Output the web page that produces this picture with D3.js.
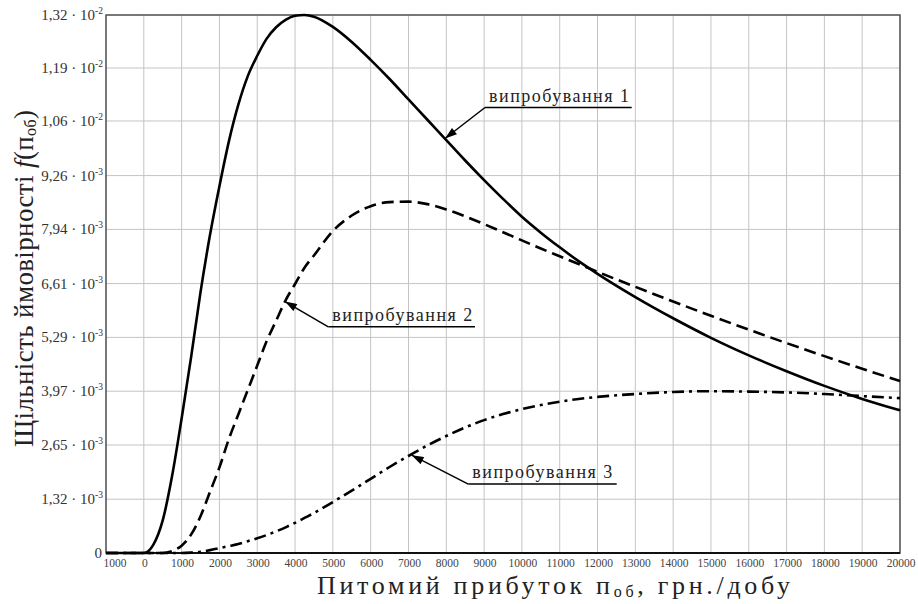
<!DOCTYPE html>
<html>
<head>
<meta charset="utf-8">
<script src="https://cdn.jsdelivr.net/npm/d3@7"></script>
</head>
<body style="margin:0">
<svg width="918" height="604"></svg>
<script>
'use strict';

// x values, grn per day
const xs = [-1000, 0, 250, 500, 750, 1000, 1250, 1500, 1750, 2000, 2250, 2500, 2750, 3000,
  3250, 3500, 3750, 4000, 4250, 4500, 5000, 5500, 6000, 6500, 7000, 7500, 8000, 8500, 9000,
  9500, 10000, 10500, 11000, 11500, 12000, 13000, 14000, 15000, 16000, 17000, 18000, 19000, 20000];

// випробування 1 (solid)
const trial1 = [0, 0, 0.0002, 0.0008, 0.0019, 0.0033, 0.0048, 0.0064, 0.0078, 0.0090, 0.0101,
  0.0110, 0.0117, 0.0122, 0.01262, 0.0129, 0.01308, 0.01318, 0.0132, 0.01316, 0.01291, 0.01254,
  0.0121, 0.01163, 0.01113, 0.01063, 0.01013, 0.00963, 0.00915, 0.00869, 0.00825, 0.00786,
  0.0075, 0.00716, 0.00685, 0.00628, 0.00576, 0.00528, 0.00485, 0.00446, 0.0041, 0.00378, 0.0035];

// випробування 2 (dashed)
const trial2 = [0, 0, 0, 0, 0.00005, 0.00018, 0.00045, 0.0009, 0.0015, 0.0021, 0.0028, 0.0034,
  0.004, 0.0046, 0.0052, 0.0057, 0.0062, 0.0066, 0.007, 0.0073, 0.0079, 0.00828, 0.00851,
  0.00861, 0.00862, 0.00856, 0.00843, 0.00826, 0.00807, 0.00787, 0.00767, 0.00747, 0.00728,
  0.00709, 0.0069, 0.00653, 0.00617, 0.00582, 0.00548, 0.00515, 0.00483, 0.00452, 0.00422];

// випробування 3 (dash-dot)
const trial3 = [0, 0, 0, 0, 0, 0, 0.00001, 0.00003, 0.00007, 0.00012, 0.00017, 0.00022,
  0.00029, 0.00036, 0.00044, 0.00053, 0.00063, 0.00074, 0.00086, 0.00098, 0.00125, 0.00153,
  0.00182, 0.00211, 0.00238, 0.00264, 0.00287, 0.00308, 0.00326, 0.00341, 0.00353, 0.00363,
  0.00371, 0.00378, 0.00383, 0.0039, 0.00395, 0.00397, 0.00396, 0.00394, 0.0039, 0.00385, 0.0038];

const xTicks = d3.range(-1000, 20001, 1000);
const xTickLabels = xTicks.map(v => String(Math.abs(v)));

const yTicks = [0, 0.00132, 0.00265, 0.00397, 0.00529, 0.00661, 0.00794, 0.00926, 0.0106, 0.0119, 0.0132];
const yTickMant = ['0', '1,32', '2,65', '3,97', '5,29', '6,61', '7,94', '9,26', '1,06', '1,19', '1,32'];
const yTickExp = [null, '-3', '-3', '-3', '-3', '-3', '-3', '-3', '-2', '-2', '-2'];

// label, tip (x, y), elbow (x, y), end of underline x, in data units
const notes = [
  { text: 'випробування 1', tx: 7966, ty: 0.01017, ex: 9024, ey: 0.01093, end: 12904 },
  { text: 'випробування 2', tx: 3734, ty: 0.00617, ex: 4879, ey: 0.00555, end: 8759 },
  { text: 'випробування 3', tx: 7085, ty: 0.0024, ex: 8582, ey: 0.00169, end: 12507 }
];

const FONT = '"Liberation Serif", "Times New Roman", serif';

const svg = d3.select('svg').style('font-family', FONT);
const W = +svg.attr('width'), H = +svg.attr('height');
const m = { top: 15, right: 18, bottom: 51, left: 106 };

const x = d3.scaleLinear().domain([-1000, 20000]).range([m.left, W - m.right]);
const y = d3.scaleLinear().domain([0, 0.0132]).range([H - m.bottom, m.top]);

// grid
svg.append('g')
  .selectAll('line').data(xTicks).join('line')
    .attr('x1', d => x(d)).attr('x2', d => x(d))
    .attr('y1', m.top).attr('y2', H - m.bottom)
    .attr('stroke', '#c4c4c4').attr('stroke-width', 1);
svg.append('g')
  .selectAll('line').data(yTicks).join('line')
    .attr('x1', m.left).attr('x2', W - m.right)
    .attr('y1', d => y(d)).attr('y2', d => y(d))
    .attr('stroke', '#c4c4c4').attr('stroke-width', 1);

// frame
svg.append('rect')
  .attr('x', m.left).attr('y', m.top)
  .attr('width', W - m.left - m.right).attr('height', H - m.top - m.bottom)
  .attr('fill', 'none').attr('stroke', '#555').attr('stroke-width', 1.5);
svg.append('line')
  .attr('x1', m.left).attr('x2', W - m.right)
  .attr('y1', H - m.bottom).attr('y2', H - m.bottom)
  .attr('stroke', '#111').attr('stroke-width', 2);

// x tick labels
svg.append('g')
  .selectAll('text').data(xTicks).join('text')
    .style('font-family', FONT)
    .attr('x', d => Math.max(x(d) + 1, m.left + 9)).attr('y', H - m.bottom + 14)
    .attr('text-anchor', 'middle')
    .attr('font-size', 11.5).attr('fill', '#444')
    .text((d, i) => xTickLabels[i]);

// y tick labels
const yl = svg.append('g')
  .selectAll('text').data(yTicks).join('text')
    .style('font-family', FONT)
    .attr('x', m.left - 3).attr('y', d => y(d) + 5)
    .attr('text-anchor', 'end')
    .attr('font-size', 15).attr('fill', '#333');
yl.each(function(d, i) {
  const t = d3.select(this);
  if (!yTickExp[i]) {
    t.attr('x', m.left - 4).text(yTickMant[i]);
    return;
  }
  t.append('tspan').text(yTickMant[i] + ' · 10');
  t.append('tspan').attr('dy', -6).attr('font-size', 9.5).text(yTickExp[i]);
});

// curves
const line = d3.line()
  .x(d => x(d[0]))
  .y(d => y(d[1]))
  .curve(d3.curveMonotoneX);

const series = [
  { vals: trial1, dash: null },
  { vals: trial2, dash: '12,6' },
  { vals: trial3, dash: '12,5,3,5' }
];
svg.append('g')
  .selectAll('path').data(series).join('path')
    .attr('d', s => line(xs.map((v, i) => [v, s.vals[i]])))
    .attr('fill', 'none')
    .attr('stroke', '#000')
    .attr('stroke-width', 2.6)
    .attr('stroke-dasharray', s => s.dash);

// annotations
svg.append('defs').append('marker')
  .attr('id', 'arr').attr('viewBox', '0 0 12 8')
  .attr('refX', 12).attr('refY', 4)
  .attr('markerWidth', 13).attr('markerHeight', 8)
  .attr('markerUnits', 'userSpaceOnUse')
  .attr('orient', 'auto')
  .append('path').attr('d', 'M0,0 L12,4 L0,8 Z').attr('fill', '#000');

const ng = svg.append('g').selectAll('g').data(notes).join('g');
ng.append('line')
  .attr('x1', d => x(d.ex)).attr('y1', d => y(d.ey))
  .attr('x2', d => x(d.tx)).attr('y2', d => y(d.ty))
  .attr('stroke', '#000').attr('stroke-width', 1.5)
  .attr('marker-end', 'url(#arr)');
ng.append('line')
  .attr('x1', d => x(d.ex)).attr('y1', d => y(d.ey))
  .attr('x2', d => x(d.end)).attr('y2', d => y(d.ey))
  .attr('stroke', '#000').attr('stroke-width', 1.5);
ng.append('text')
  .style('font-family', FONT)
  .attr('x', d => x(d.ex) + 4)
  .attr('y', d => y(d.ey) - 6)
  .attr('textLength', 140).attr('lengthAdjust', 'spacing')
  .attr('font-size', 18).attr('fill', '#222')
  .text(d => d.text);

// axis titles
const xt = svg.append('text')
  .style('font-family', FONT)
  .attr('x', 317).attr('y', H - 10)
  .attr('textLength', 473).attr('lengthAdjust', 'spacing')
  .attr('font-size', 26).attr('fill', '#222');
xt.append('tspan').text('Питомий прибуток п');
xt.append('tspan').attr('font-size', 16).attr('dy', 3).text('об');
xt.append('tspan').attr('dy', -3).text(', грн./добу');

const yt = svg.append('text')
  .style('font-family', FONT)
  .attr('transform', 'translate(33, 447) rotate(-90)')
  .attr('textLength', 337).attr('lengthAdjust', 'spacing')
  .attr('font-size', 27).attr('fill', '#222');
yt.append('tspan').text('Щільність ймовірності ');
yt.append('tspan').attr('font-style', 'italic').text('f');
yt.append('tspan').text('(п');
yt.append('tspan').attr('font-size', 16).attr('dy', 3).text('об');
yt.append('tspan').attr('dy', -3).text(')');
</script>
</body>
</html>
